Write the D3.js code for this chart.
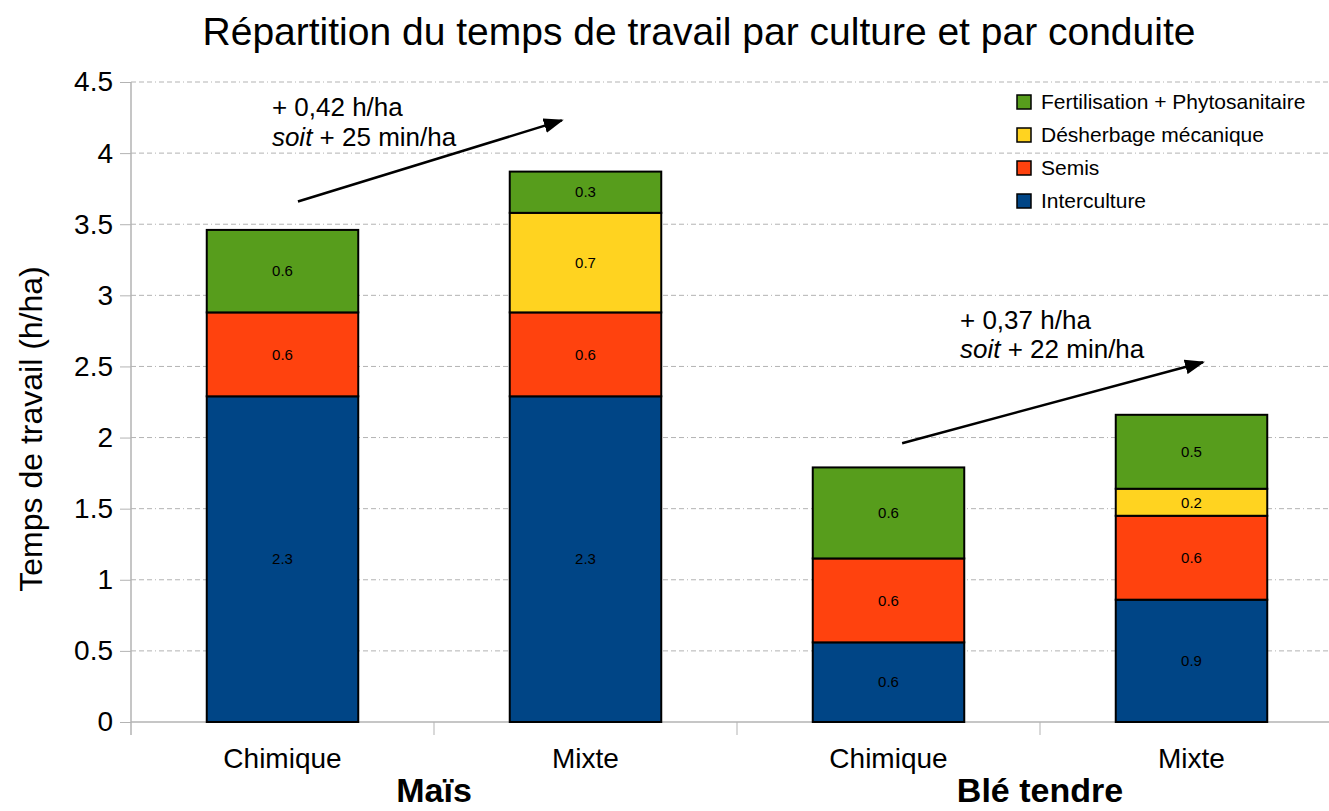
<!DOCTYPE html>
<html>
<head>
<meta charset="utf-8">
<script src="https://cdn.jsdelivr.net/npm/d3@7"></script>
<style>
body { margin: 0; background: #fff; }
svg { font-family: "Liberation Sans", Arial, sans-serif; }
.grid line { stroke: #b3b3b3; stroke-dasharray: 5,3,5,3,5,3,1,3; }
</style>
</head>
<body>
<script>
const WIDTH = 1329;
const HEIGHT = 811;
const MARGIN = {top: 82, right: -14, bottom: 89, left: 131};
const INNER_WIDTH = WIDTH - MARGIN.left - MARGIN.right;
const INNER_HEIGHT = HEIGHT - MARGIN.top - MARGIN.bottom;

// data
var categories = ['Chimique', 'Mixte', 'Chimique', 'Mixte'];
var groups = ['Maïs', 'Blé tendre'];
var seriesNames = ['Interculture', 'Semis', 'Désherbage mécanique', 'Fertilisation + Phytosanitaire'];
var seriesColors = ['#004586', '#ff420e', '#ffd320', '#579d1c'];
var interculture = [2.29, 2.29, 0.56, 0.86];
var semis = [0.59, 0.59, 0.59, 0.59];
var desherbage = [0, 0.70, 0, 0.19];
var fertilisation = [0.58, 0.29, 0.64, 0.52];
var yTicks = [0, 0.5, 1, 1.5, 2, 2.5, 3, 3.5, 4, 4.5];
var annotations = [
	{line1: '+ 0,42 h/ha', line2: '+ 25 min/ha', tx: 0.465, ty: [4.26, 4.05], from: [0.551, 3.66], to: [1.422, 4.23]},
	{line1: '+ 0,37 h/ha', line2: '+ 22 min/ha', tx: 2.736, ty: [2.76, 2.56], from: [2.545, 1.96], to: [3.538, 2.53]}
];

var _xScale, _xPos, _yScale, svg, plot;

var createSvg = function(){
	svg = d3.select('body').append('svg')
		.attr('width', WIDTH)
		.attr('height', HEIGHT);

	svg.append('defs').append('marker')
		.attr('id', 'arrow')
		.attr('viewBox', '0 0 10 10')
		.attr('refX', 9).attr('refY', 5)
		.attr('markerWidth', 20).attr('markerHeight', 15)
		.attr('markerUnits', 'userSpaceOnUse')
		.attr('orient', 'auto')
		.attr('preserveAspectRatio', 'none')
		.append('path').attr('d', 'M0,0 L10,5 L0,10 z').attr('fill', '#000');

	plot = svg.append('g').attr('transform', 'translate(' + MARGIN.left + ',' + MARGIN.top + ')');

	_xScale = d3.scaleBand().domain(d3.range(categories.length)).range([0, INNER_WIDTH]).paddingInner(0.5).paddingOuter(0.25);
	_xPos = d3.scaleLinear().domain([0, categories.length]).range([0, INNER_WIDTH]);
	_yScale = d3.scaleLinear().domain([0, 4.5]).range([INNER_HEIGHT, 0]);

	// grid
	plot.append('g').classed('grid', true)
		.selectAll('line').data(yTicks.filter(function(d){ return d > 0; })).enter()
		.append('line')
		.attr('x1', 0).attr('x2', INNER_WIDTH)
		.attr('y1', function(d){ return _yScale(d); })
		.attr('y2', function(d){ return _yScale(d); });

	// y axis
	var yAxis = d3.axisLeft(_yScale).tickValues(yTicks).tickFormat(d3.format('')).tickSize(11).tickPadding(7);
	var ya = plot.append('g').call(yAxis);
	ya.select('.domain').remove();
	ya.selectAll('.tick line').attr('stroke', '#b3b3b3');
	ya.selectAll('.tick text').attr('font-size', 28).attr('fill', '#000');
	plot.append('line').attr('x1', 0).attr('x2', 0).attr('y1', 0).attr('y2', INNER_HEIGHT + 13)
		.attr('stroke', '#b3b3b3').attr('stroke-width', 1.5);

	// x axis
	plot.append('line').attr('x1', 0).attr('x2', INNER_WIDTH).attr('y1', INNER_HEIGHT).attr('y2', INNER_HEIGHT)
		.attr('stroke', '#b3b3b3').attr('stroke-width', 1.5);
	plot.append('g').selectAll('line').data(d3.range(1, categories.length + 1)).enter()
		.append('line')
		.attr('x1', function(d){ return _xPos(d); }).attr('x2', function(d){ return _xPos(d); })
		.attr('y1', INNER_HEIGHT).attr('y2', INNER_HEIGHT + 13)
		.attr('stroke', '#b3b3b3');
	plot.append('g').selectAll('text').data(categories).enter()
		.append('text')
		.attr('x', function(d, i){ return _xScale(i) + _xScale.bandwidth()/2; })
		.attr('y', INNER_HEIGHT + 46)
		.attr('text-anchor', 'middle')
		.attr('font-size', 28)
		.text(function(d){ return d; });
	plot.append('g').selectAll('text').data(groups).enter()
		.append('text')
		.attr('x', function(d, i){ return _xPos(i*2 + 1); })
		.attr('y', INNER_HEIGHT + 80)
		.attr('text-anchor', 'middle')
		.attr('font-size', 34)
		.attr('font-weight', 'bold')
		.text(function(d){ return d; });

	svg.append('text')
		.attr('x', 699).attr('y', 45)
		.attr('text-anchor', 'middle')
		.attr('font-size', 39)
		.text('Répartition du temps de travail par culture et par conduite');

	svg.append('text')
		.attr('transform', 'translate(42,' + (MARGIN.top + 347) + ') rotate(-90)')
		.attr('text-anchor', 'middle')
		.attr('font-size', 32)
		.text('Temps de travail (h/ha)');
}

var drawBars = function(){
	var table = categories.map(function(c, i){
		return {i: i, Interculture: interculture[i], Semis: semis[i], 'Désherbage mécanique': desherbage[i], 'Fertilisation + Phytosanitaire': fertilisation[i]};
	});
	var stacked = d3.stack().keys(seriesNames)(table);

	var layers = plot.append('g').selectAll('g').data(stacked).enter()
		.append('g')
		.attr('fill', function(d, k){ return seriesColors[k]; });

	layers.selectAll('rect').data(function(d){ return d.filter(function(s){ return s[1] - s[0] > 0; }); }).enter()
		.append('rect')
		.attr('x', function(d){ return _xScale(d.data.i); })
		.attr('y', function(d){ return _yScale(d[1]); })
		.attr('width', _xScale.bandwidth())
		.attr('height', function(d){ return _yScale(d[0]) - _yScale(d[1]); })
		.attr('stroke', '#000')
		.attr('stroke-width', 2);

	layers.selectAll('text').data(function(d){ return d.filter(function(s){ return s[1] - s[0] > 0; }); }).enter()
		.append('text')
		.attr('x', function(d){ return _xScale(d.data.i) + _xScale.bandwidth()/2; })
		.attr('y', function(d){ return _yScale((d[0] + d[1])/2); })
		.attr('dy', '0.35em')
		.attr('text-anchor', 'middle')
		.attr('font-size', 15)
		.attr('fill', '#000')
		.text(function(d){ return d3.format('.1f')(d[1] - d[0]); });
}

var drawLegend = function(){
	var order = seriesNames.slice().reverse();
	var leg = svg.append('g').attr('transform', 'translate(1017,95)');
	var item = leg.selectAll('g').data(order).enter()
		.append('g')
		.attr('transform', function(d, i){ return 'translate(0,' + (i*33) + ')'; });
	item.append('rect')
		.attr('width', 14).attr('height', 14)
		.attr('fill', function(d){ return seriesColors[seriesNames.indexOf(d)]; })
		.attr('stroke', '#000').attr('stroke-width', 1.5);
	item.append('text')
		.attr('x', 24).attr('y', 7).attr('dy', '0.35em')
		.attr('font-size', 21)
		.text(function(d){ return d; });
}

var drawAnnotations = function(){
	var g = plot.append('g');
	annotations.forEach(function(a){
		g.append('line')
			.attr('x1', _xPos(a.from[0])).attr('y1', _yScale(a.from[1]))
			.attr('x2', _xPos(a.to[0])).attr('y2', _yScale(a.to[1]))
			.attr('stroke', '#000').attr('stroke-width', 2.5)
			.attr('marker-end', 'url(#arrow)');
		g.append('text')
			.attr('x', _xPos(a.tx)).attr('y', _yScale(a.ty[0]))
			.attr('font-size', 26)
			.text(a.line1);
		var t = g.append('text')
			.attr('x', _xPos(a.tx)).attr('y', _yScale(a.ty[1]))
			.attr('font-size', 26);
		t.append('tspan').attr('font-style', 'italic').text('soit');
		t.append('tspan').text(' ' + a.line2);
	});
}

window.onload = function(){
	createSvg();
	drawBars();
	drawLegend();
	drawAnnotations();
}
</script>
</body>
</html>
